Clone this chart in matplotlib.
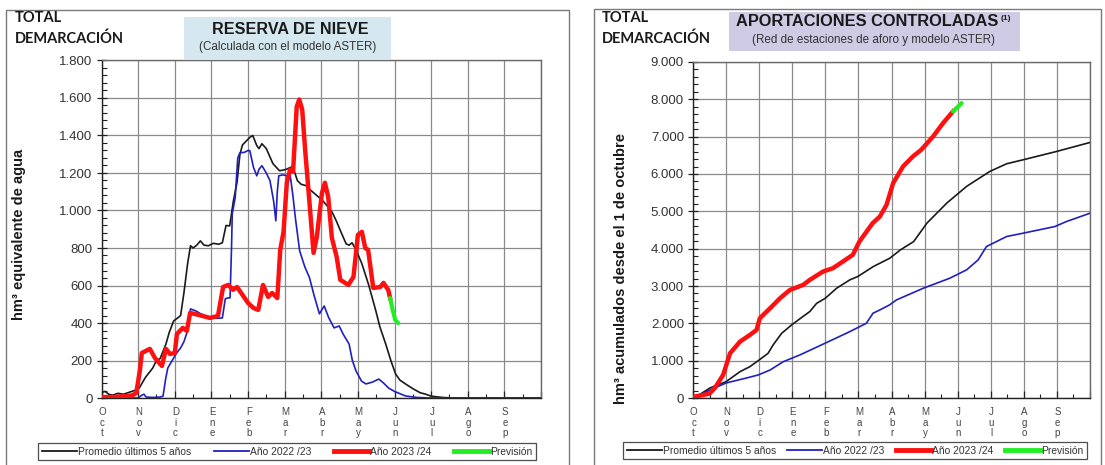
import matplotlib
matplotlib.use("Agg")
import matplotlib.pyplot as plt
from matplotlib.patches import Rectangle
from matplotlib.lines import Line2D
from matplotlib.ticker import MultipleLocator

# ---------------- data (x in months since 1 October) ----------------
meses = ["Oct", "Nov", "Dic", "Ene", "Feb", "Mar", "Abr", "May", "Jun", "Jul", "Ago", "Sep"]

# Reserva de nieve (hm3)
nieve_promedio_x = [0, 0.1, 0.2, 0.3, 0.45, 0.6, 0.75, 0.9, 1.03, 1.2, 1.4, 1.5, 1.6, 1.76, 1.85, 1.97,
                    2.1, 2.16, 2.25, 2.35, 2.43, 2.5, 2.6, 2.7, 2.8, 2.92, 3.05, 3.2, 3.3, 3.4, 3.5, 3.6,
                    3.7, 3.78, 3.85, 3.95, 4.05, 4.13, 4.24, 4.3, 4.38, 4.5, 4.68, 4.86, 4.95, 5.05, 5.22,
                    5.35, 5.45, 5.59, 5.7, 5.95, 6.05, 6.16, 6.3, 6.41, 6.55, 6.68, 6.76, 6.84, 6.95, 7.11,
                    7.3, 7.49, 7.6, 7.76, 7.9, 8.03, 8.15, 8.3, 8.5, 8.7, 8.84, 9.0, 9.3, 9.6, 12.0]
nieve_promedio = [30, 35, 20, 15, 25, 20, 30, 40, 53, 110, 160, 200, 210, 288, 350, 411,
                  430, 440, 560, 715, 812, 800, 815, 838, 815, 812, 825, 820, 828, 920, 918, 1050,
                  1150, 1300, 1350, 1370, 1390, 1400, 1346, 1330, 1356, 1330, 1250, 1212, 1215, 1220, 1235,
                  1159, 1140, 1132, 1110, 1068, 1050, 1025, 990, 945, 880, 822, 815, 828, 790, 716,
                  600, 465, 380, 288, 200, 128, 95, 75, 50, 28, 21, 10, 3, 0, 0]

nieve_2223_x = [0, 1.0, 1.1, 1.16, 1.22, 1.4, 1.6, 1.68, 1.75, 1.81, 1.9, 1.97, 2.05, 2.16, 2.25, 2.35,
                2.43, 2.5, 2.57, 2.7, 2.84, 3.0, 3.15, 3.3, 3.38, 3.45, 3.51, 3.55, 3.57, 3.65, 3.72,
                3.78, 3.9, 4.0, 4.05, 4.15, 4.24, 4.3, 4.38, 4.5, 4.6, 4.7, 4.76, 4.8, 4.84, 4.95, 5.08,
                5.15, 5.22, 5.3, 5.41, 5.55, 5.68, 5.8, 5.95, 6.08, 6.2, 6.35, 6.49, 6.6, 6.76, 6.85,
                6.95, 7.1, 7.22, 7.4, 7.57, 7.7, 7.84, 8.0, 8.3, 8.6, 9.0, 12.0]
nieve_2223 = [0, 0, 15, 20, 5, 3, 5, 10, 100, 160, 190, 213, 240, 267, 300, 358,
              475, 470, 465, 450, 438, 430, 425, 427, 529, 534, 534, 800, 982, 1068, 1280,
              1308, 1310, 1320, 1319, 1230, 1185, 1220, 1239, 1200, 1159, 1050, 945, 1100, 1185, 1190, 1185,
              1190, 1089, 950, 785, 700, 641, 550, 449, 491, 430, 374, 384, 340, 288, 200,
              144, 90, 75, 85, 101, 80, 53, 35, 11, 3, 0, 0]

nieve_2324_x = [0, 0.3, 0.5, 0.7, 0.85, 0.95, 1.05, 1.1, 1.2, 1.32, 1.46, 1.65, 1.76, 1.87, 2.0, 2.06,
                2.22, 2.33, 2.42, 2.55, 2.75, 2.96, 3.18, 3.32, 3.46, 3.59, 3.7, 3.85, 4.0, 4.15, 4.28,
                4.41, 4.55, 4.66, 4.8, 4.88, 4.97, 5.06, 5.15, 5.23, 5.33, 5.4, 5.48, 5.56, 5.65, 5.79,
                5.88, 6.02, 6.1, 6.19, 6.29, 6.42, 6.52, 6.74, 6.88, 7.0, 7.11, 7.2, 7.28, 7.42, 7.61,
                7.7, 7.83, 7.88]
nieve_2324 = [5, 5, 8, 10, 15, 27, 150, 240, 250, 262, 213, 171, 262, 235, 240, 342,
              374, 358, 454, 448, 438, 427, 438, 592, 603, 577, 592, 550, 507, 480, 470,
              603, 539, 560, 533, 790, 886, 1148, 1218, 1207, 1554, 1592, 1538, 1324, 1110, 774,
              860, 1094, 1148, 1073, 854, 753, 630, 603, 646, 870, 886, 800, 790, 587, 592,
              614, 576, 533]

nieve_prev_x = [7.88, 7.95, 8.02, 8.1]
nieve_prev = [533, 470, 416, 400]

# Aportaciones acumuladas desde el 1 de octubre (hm3)
apor_promedio_x = [0, 0.25, 0.51, 1.0, 1.42, 1.72, 2.0, 2.27, 2.42, 2.68, 2.98, 3.32, 3.53, 3.74, 4.0,
                   4.34, 4.74, 4.98, 5.45, 5.65, 5.95, 6.27, 6.67, 7.07, 7.67, 8.27, 8.97, 9.48, 9.98,
                   10.99, 12.0]
apor_promedio = [0, 120, 268, 437, 705, 840, 1019, 1198, 1420, 1733, 1957, 2180, 2315, 2538, 2672,
                 2940, 3164, 3253, 3521, 3611, 3745, 3968, 4190, 4683, 5220, 5668, 6068, 6274, 6381,
                 6604, 6845]

apor_2223_x = [0, 0.25, 0.51, 1.0, 1.62, 1.97, 2.33, 2.73, 3.23, 3.99, 4.74, 5.24, 5.44, 5.65, 5.94,
               6.15, 6.96, 7.76, 8.27, 8.62, 8.87, 9.48, 9.98, 10.94, 11.29, 12.0]
apor_2223 = [0, 100, 214, 402, 536, 617, 750, 973, 1153, 1466, 1778, 2002, 2270, 2360, 2493,
             2627, 2940, 3208, 3432, 3700, 4057, 4325, 4415, 4593, 4727, 4950]

apor_2324_x = [0, 0.31, 0.5, 0.66, 0.91, 1.12, 1.42, 1.72, 1.92, 2.02, 2.33, 2.63, 2.93, 3.33, 3.53,
               3.93, 4.23, 4.53, 4.83, 5.03, 5.43, 5.65, 5.85, 6.05, 6.35, 6.65, 6.9, 7.26, 7.56, 7.86]
apor_2324 = [30, 80, 120, 268, 617, 1198, 1510, 1689, 1823, 2136, 2404, 2672, 2895, 3029, 3164,
             3387, 3477, 3655, 3834, 4191, 4683, 4862, 5175, 5757, 6204, 6472, 6650, 7008, 7365, 7678]

apor_prev_x = [7.86, 8.12]
apor_prev = [7678, 7900]

leyenda = ["Promedio últimos 5 años", "Año 2022 /23", "Año 2023 /24", "Previsión"]

# ---------------- styles ----------------
W, H = 1105, 465
FONT = "Liberation Sans"
C_PROM, C_2223, C_2324, C_PREV = "#1a1a1a", "#2020c0", "#ff1010", "#22ee22"
GRID = "#8a8a8a"

plt.rcParams["font.family"] = [FONT, "DejaVu Sans"]

fig = plt.figure(figsize=(W / 100, H / 100), dpi=100)
fig.patch.set_facecolor("white")


def fx(x):
    return x / W


def fy(y):
    return 1 - y / H


def frame(x0, y0, x1, y1, **kw):
    fig.patches.append(Rectangle((fx(x0), fy(y1)), fx(x1 - x0), fy(y0) - fy(y1),
                                 transform=fig.transFigure, **kw))


def panel_axes(x0, y0, x1, y1):
    return fig.add_axes([fx(x0), fy(y1), fx(x1 - x0), fy(y0) - fy(y1)])


def miles(v):
    return f"{int(v):,}".replace(",", ".")


def style_axes(ax, ymax, ymajor, yminor):
    ax.set_xlim(0, 12)
    ax.set_ylim(0, ymax)
    ax.xaxis.set_major_locator(MultipleLocator(1))
    ax.xaxis.set_minor_locator(MultipleLocator(0.5))
    ax.yaxis.set_major_locator(MultipleLocator(ymajor))
    ax.yaxis.set_minor_locator(MultipleLocator(yminor))
    ax.yaxis.set_major_formatter(lambda v, pos: miles(v))
    ax.grid(True, which="major", color=GRID, lw=0.9)
    ax.set_axisbelow(True)
    for s in ax.spines.values():
        s.set_color("#6a6a6a")
        s.set_linewidth(1.0)
    ax.spines["left"].set_color("#222222")
    ax.spines["bottom"].set_color("#222222")
    ax.tick_params(axis="y", which="major", direction="inout", length=7, width=0.9,
                   colors="#222222", labelcolor="#333333", labelsize=9.5, pad=3)
    ax.tick_params(axis="y", which="minor", direction="in", length=3.5, width=0.8, colors="#222222")
    ax.tick_params(axis="x", which="major", direction="in", length=5, width=0.9, colors="#222222",
                   labelbottom=False)
    ax.tick_params(axis="x", which="minor", direction="in", length=3, width=0.8, colors="#222222")
    # vertical month labels
    for i, m in enumerate(meses):
        ax.text(i + 0.02, -0.028, "\n".join(m), transform=ax.get_xaxis_transform(), ha="center",
                va="top", fontsize=7, color="#444444", linespacing=1.05)


def leyenda_panel(x0, y0, x1, y1):
    handles = [Line2D([], [], color=C_PROM, lw=1.3), Line2D([], [], color=C_2223, lw=1.3),
               Line2D([], [], color=C_2324, lw=3.5), Line2D([], [], color=C_PREV, lw=3.5)]
    lg = fig.legend(handles, leyenda, ncol=4, loc="center",
                    bbox_to_anchor=(fx(x0), fy(y1), fx(x1 - x0), fy(y0) - fy(y1)),
                    bbox_transform=fig.transFigure, mode="expand", fontsize=7.4,
                    handlelength=3.4, handletextpad=0.1, columnspacing=1.0,
                    borderpad=0.35, frameon=True, fancybox=False, edgecolor="#222222")
    lg.get_frame().set_linewidth(0.9)
    for t in lg.get_texts():
        t.set_color("#333333")
    return lg


# ---------------- panel frames and title boxes ----------------
frame(6, 10, 569, 480, fill=False, edgecolor="#7a7a7a", lw=1.0)
frame(594, 9, 1101, 480, fill=False, edgecolor="#7a7a7a", lw=1.0)
frame(184, 17, 391, 60, facecolor="#d5e8f0", edgecolor="none")
frame(729, 12, 1020, 51, facecolor="#cfcbe4", edgecolor="none")

# ---------------- left panel: snow reserve ----------------
ax1 = panel_axes(101.5, 60.5, 541, 398)
style_axes(ax1, 1800, 200, 40)
ax1.plot(nieve_promedio_x, nieve_promedio, color=C_PROM, lw=1.2, zorder=3)
ax1.plot(nieve_2223_x, nieve_2223, color=C_2223, lw=1.2, zorder=4)
ax1.plot(nieve_2324_x, nieve_2324, color=C_2324, lw=3.2, zorder=5, solid_joinstyle="round")
ax1.plot(nieve_prev_x, nieve_prev, color=C_PREV, lw=3.0, zorder=6, solid_capstyle="round")
fig.text(fx(19), fy(234), "hm³ equivalente de agua", rotation=90, fontsize=10.5,
         fontweight="bold", ha="center", va="center", color="#1a1a1a")

# ---------------- right panel: controlled inflows ----------------
ax2 = panel_axes(693, 62, 1090, 398)
style_axes(ax2, 9000, 1000, 200)
ax2.plot(apor_promedio_x, apor_promedio, color=C_PROM, lw=1.2, zorder=3)
ax2.plot(apor_2223_x, apor_2223, color=C_2223, lw=1.2, zorder=4)
ax2.plot(apor_2324_x, apor_2324, color=C_2324, lw=3.2, zorder=5, solid_joinstyle="round")
ax2.plot(apor_prev_x, apor_prev, color=C_PREV, lw=3.0, zorder=6, solid_capstyle="round")
fig.text(fx(621), fy(269), "hm³ acumulados desde el 1 de octubre", rotation=90, fontsize=10.5,
         fontweight="bold", ha="center", va="center", color="#1a1a1a")

# ---------------- headings ----------------
for x0 in (15, 602):
    fig.text(fx(x0), fy(18), "TOTAL", fontsize=10.5, fontweight="bold", family="Lato",
             ha="left", va="center", color="#1a1a1a")
    fig.text(fx(x0), fy(39), "DEMARCACIÓN", fontsize=10.5, fontweight="bold", family="Lato",
             ha="left", va="center", color="#1a1a1a")

fig.text(fx(290), fy(29), "RESERVA DE NIEVE", fontsize=11.6, fontweight="bold", ha="center",
         va="center", color="#1a1a1a")
fig.text(fx(288), fy(47), "(Calculada con el modelo ASTER)", fontsize=8.4, ha="center",
         va="center", color="#333333")

fig.text(fx(867), fy(22), "APORTACIONES CONTROLADAS", fontsize=11.8, fontweight="bold",
         ha="center", va="center", color="#1a1a1a")
fig.text(fx(1001), fy(18), "(1)", fontsize=6, fontweight="bold", ha="left", va="center",
         color="#1a1a1a")
fig.text(fx(873), fy(40), "(Red de estaciones de aforo y modelo ASTER)", fontsize=8.4,
         ha="center", va="center", color="#333333")

# ---------------- legends ----------------
leyenda_panel(33, 441, 541, 462)
leyenda_panel(618, 440, 1092, 461)

fig.savefig("out.png", dpi=100, facecolor="white")
